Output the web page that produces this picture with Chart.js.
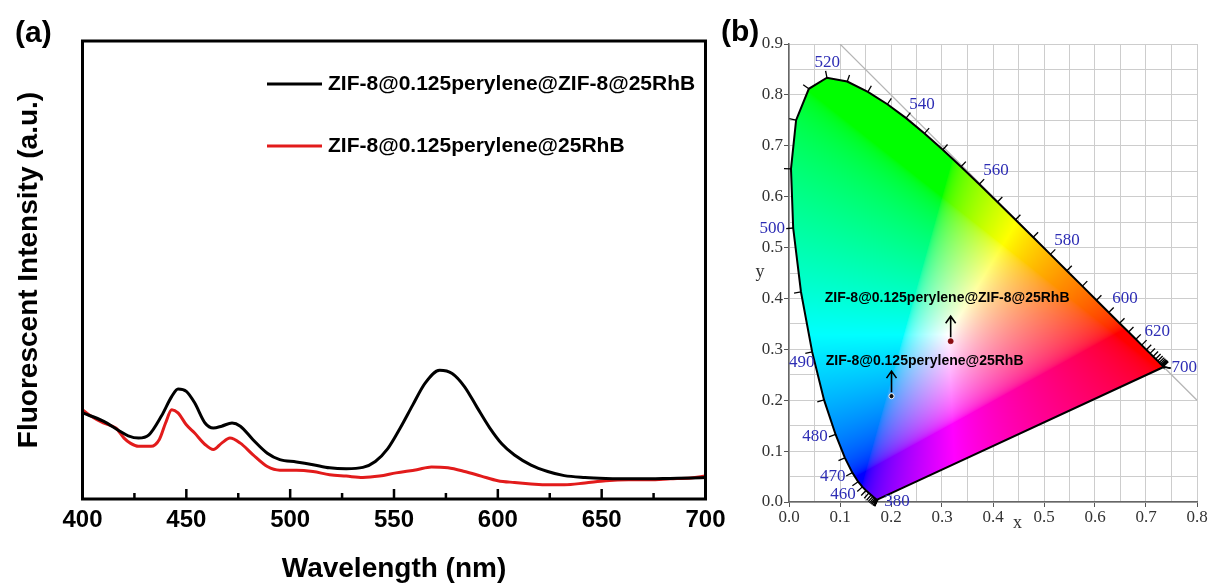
<!DOCTYPE html>
<html>
<head>
<meta charset="utf-8">
<script src="https://cdn.jsdelivr.net/npm/chart.js@4.4.0/dist/chart.umd.min.js"></script>
<style>
  html, body { margin: 0; padding: 0; background: #fff; }
  #page { position: relative; width: 1208px; height: 586px; overflow: hidden; }
  #spectre { position: absolute; left: 0; top: 0; }
  #cie { position: absolute; left: 720px; top: 0; }
  .panneau { position: absolute; font: bold 30px "Liberation Sans", Arial, sans-serif; line-height: 30px; color: #000; }
</style>
</head>
<body>
<div id="page">
  <canvas id="spectre" width="760" height="586"></canvas>
  <canvas id="cie" width="488" height="586"></canvas>
  <div class="panneau" style="left:15px;top:17px">(a)</div>
  <div class="panneau" style="left:721px;top:16px">(b)</div>
</div>
<script>
const SANS = '"Liberation Sans", Arial, sans-serif';
const SERIF = '"Liberation Serif", "Times New Roman", serif';

// --- (a) spectres de fluorescence (intensité en u.a.) ---
const nomsSeries = ['ZIF-8@0.125perylene@ZIF-8@25RhB', 'ZIF-8@0.125perylene@25RhB'];

const longueursNoir = [400, 410, 418, 422, 427, 432, 438, 443, 446, 450, 454, 459, 463, 467, 472, 476, 482, 489, 495, 503, 511, 519, 527, 535, 541, 547, 553, 559, 565, 572, 578, 584, 590, 596, 602, 608, 616, 624, 632, 642, 652, 663, 673, 683, 693, 700];
const intensiteNoir = [18.8, 17.0, 14.8, 13.8, 13.3, 14.0, 18.1, 22.4, 24.0, 23.5, 21.0, 16.6, 15.5, 15.9, 16.6, 15.9, 13.0, 10.0, 8.6, 8.1, 7.5, 6.8, 6.6, 6.9, 8.2, 11.0, 15.5, 20.5, 25.3, 28.1, 27.4, 24.5, 20.0, 15.6, 12.0, 9.6, 7.4, 6.0, 5.1, 4.7, 4.5, 4.4, 4.4, 4.5, 4.6, 4.7];

const longueursRouge = [400, 404, 410, 416, 420, 423, 427, 433, 437, 440, 443, 446, 450, 454, 459, 463, 467, 471, 476, 482, 489, 495, 503, 511, 519, 527, 535, 543, 551, 561, 568, 576, 584, 592, 600, 608, 616, 624, 632, 642, 652, 663, 673, 683, 693, 700];
const intensiteRouge = [19.5, 18.1, 16.6, 15.5, 13.3, 12.2, 11.5, 11.5, 13.0, 16.6, 19.5, 18.8, 16.2, 14.4, 11.9, 10.8, 12.2, 13.3, 12.2, 9.7, 7.1, 6.3, 6.3, 6.0, 5.3, 5.0, 4.7, 5.0, 5.7, 6.4, 7.0, 6.8, 6.0, 5.0, 4.0, 3.6, 3.3, 3.1, 3.1, 3.5, 4.0, 4.2, 4.2, 4.4, 4.6, 5.0];

// --- (b) diagramme CIE 1931 ---
const locusLambda = [380, 385, 390, 395, 400, 405, 410, 415, 420, 425, 430, 435, 440, 445, 450, 455, 460, 465, 470, 475, 480, 485, 490, 495, 500, 505, 510, 515, 520, 525, 530, 535, 540, 545, 550, 555, 560, 565, 570, 575, 580, 585, 590, 595, 600, 605, 610, 615, 620, 625, 630, 635, 640, 645, 650, 655, 660, 665, 670, 675, 680, 685, 690, 695, 700];
const locusX = [0.1741, 0.1740, 0.1738, 0.1736, 0.1733, 0.1730, 0.1726, 0.1721, 0.1714, 0.1703, 0.1689, 0.1669, 0.1644, 0.1611, 0.1566, 0.1510, 0.1440, 0.1355, 0.1241, 0.1096, 0.0913, 0.0687, 0.0454, 0.0235, 0.0082, 0.0039, 0.0139, 0.0389, 0.0743, 0.1142, 0.1547, 0.1929, 0.2296, 0.2658, 0.3016, 0.3373, 0.3731, 0.4087, 0.4441, 0.4788, 0.5125, 0.5448, 0.5752, 0.6029, 0.6270, 0.6482, 0.6658, 0.6801, 0.6915, 0.7006, 0.7079, 0.7140, 0.7190, 0.7230, 0.7260, 0.7283, 0.7300, 0.7311, 0.7320, 0.7327, 0.7334, 0.7340, 0.7344, 0.7346, 0.7347];
const locusY = [0.0050, 0.0050, 0.0049, 0.0049, 0.0048, 0.0048, 0.0048, 0.0048, 0.0051, 0.0058, 0.0069, 0.0086, 0.0109, 0.0138, 0.0177, 0.0227, 0.0297, 0.0399, 0.0578, 0.0868, 0.1327, 0.2007, 0.2950, 0.4127, 0.5384, 0.6548, 0.7502, 0.8120, 0.8338, 0.8262, 0.8059, 0.7816, 0.7543, 0.7243, 0.6923, 0.6589, 0.6245, 0.5896, 0.5547, 0.5202, 0.4866, 0.4544, 0.4242, 0.3965, 0.3725, 0.3514, 0.3340, 0.3197, 0.3083, 0.2993, 0.2920, 0.2859, 0.2809, 0.2770, 0.2740, 0.2717, 0.2700, 0.2689, 0.2680, 0.2673, 0.2666, 0.2660, 0.2656, 0.2654, 0.2653];

const diagX = [0.1, 0.8];
const diagY = [0.9, 0.2];

const etiquettesLambda = ['520', '540', '560', '580', '600', '620', '700', '500', '490', '480', '470', '460', '380'];
const etiquettesX = [0.075, 0.261, 0.406, 0.545, 0.659, 0.722, 0.775, -0.033, 0.025, 0.051, 0.086, 0.106, 0.212];
const etiquettesY = [0.864, 0.782, 0.652, 0.513, 0.399, 0.334, 0.265, 0.538, 0.275, 0.128, 0.051, 0.014, 0.000];

const echantX = [0.317, 0.201];
const echantY = [0.316, 0.208];
const texteEchantX = [0.310, 0.266];
const texteEchantY = [0.401, 0.277];

// cadre + graduations vers l'intérieur
const cadreA = {
  id: 'cadreA',
  afterDraw(chart) {
    const {ctx, chartArea: a, scales: {x}} = chart;
    ctx.save();
    ctx.strokeStyle = '#000';
    ctx.lineWidth = 3;
    ctx.strokeRect(a.left, a.top, a.right - a.left, a.bottom - a.top);
    ctx.lineWidth = 2.5;
    x.ticks.forEach(t => {
      if (t.value <= x.min || t.value >= x.max) return;
      const px = x.getPixelForValue(t.value);
      const len = t.value % 50 === 0 ? 10 : 6;
      ctx.beginPath();
      ctx.moveTo(px, a.bottom);
      ctx.lineTo(px, a.bottom - len);
      ctx.stroke();
    });
    ctx.restore();
  }
};

const legendeA = {
  id: 'legendeA',
  afterDraw(chart, args, opts) {
    const ctx = chart.ctx;
    ctx.save();
    ctx.font = 'bold ' + opts.taille + 'px ' + SANS;
    ctx.textBaseline = 'middle';
    chart.data.datasets.forEach((ds, i) => {
      const y = opts.lignes[i];
      ctx.strokeStyle = ds.borderColor;
      ctx.lineWidth = 3;
      ctx.beginPath();
      ctx.moveTo(opts.x0, y);
      ctx.lineTo(opts.x1, y);
      ctx.stroke();
      ctx.fillStyle = '#000';
      ctx.fillText(ds.label, opts.texteX, y);
    });
    ctx.restore();
  }
};

new Chart(document.getElementById('spectre'), {
  type: 'scatter',
  data: {
    datasets: [
      {
        label: nomsSeries[0],
        data: longueursNoir.map((w, i) => ({x: w, y: intensiteNoir[i]})),
        showLine: true, borderColor: '#000', borderWidth: 3, pointRadius: 0,
        cubicInterpolationMode: 'monotone'
      },
      {
        label: nomsSeries[1],
        data: longueursRouge.map((w, i) => ({x: w, y: intensiteRouge[i]})),
        showLine: true, borderColor: '#e21b1b', borderWidth: 3, pointRadius: 0,
        cubicInterpolationMode: 'monotone'
      }
    ]
  },
  options: {
    responsive: false,
    animation: false,
    layout: {padding: {top: 41, right: 54.5, left: 0, bottom: 0}},
    plugins: {
      legend: {display: false},
      tooltip: {enabled: false},
      legendeA: {x0: 267, x1: 322, texteX: 328, lignes: [84, 146], taille: 21}
    },
    scales: {
      x: {
        type: 'linear', min: 400, max: 700,
        ticks: {
          stepSize: 25, autoSkip: false, maxRotation: 0, padding: 7, color: '#000',
          font: {family: SANS, size: 24, weight: 'bold'},
          callback: v => (v % 50 === 0 ? String(v) : '')
        },
        grid: {display: false, drawTicks: false},
        border: {display: false},
        title: {display: true, text: 'Wavelength (nm)', color: '#000',
          font: {family: SANS, size: 28, weight: 'bold'}, padding: {top: 0, bottom: 0}},
        afterFit: s => { s.height = 87; s.paddingLeft = 0; s.paddingRight = 0; }
      },
      y: {
        min: 0, max: 100,
        ticks: {display: false},
        grid: {display: false, drawTicks: false},
        border: {display: false},
        title: {display: true, text: 'Fluorescent Intensity (a.u.)', color: '#000',
          font: {family: SANS, size: 28, weight: 'bold'}, padding: {top: 12, bottom: 0}},
        afterFit: s => { s.width = 82.5; s.paddingTop = 0; s.paddingBottom = 0; }
      }
    }
  },
  plugins: [cadreA, legendeA]
});

// remplissage coloré du diagramme de chromaticité
function gammaSrgb(c) {
  return c <= 0.0031308 ? 12.92 * c : 1.055 * Math.pow(c, 1 / 2.4) - 0.055;
}

const remplissageCIE = {
  id: 'remplissageCIE',
  beforeDatasetsDraw(chart) {
    const {ctx, scales: {x, y}} = chart;
    const pts = locusX.map((v, i) => [x.getPixelForValue(v), y.getPixelForValue(locusY[i])]);
    const minX = Math.floor(Math.min(...pts.map(p => p[0]))) - 1;
    const maxX = Math.ceil(Math.max(...pts.map(p => p[0]))) + 1;
    const minY = Math.floor(Math.min(...pts.map(p => p[1]))) - 1;
    const maxY = Math.ceil(Math.max(...pts.map(p => p[1]))) + 1;
    const w = maxX - minX, h = maxY - minY;
    const off = document.createElement('canvas');
    off.width = w; off.height = h;
    const octx = off.getContext('2d');
    const img = octx.createImageData(w, h);
    for (let j = 0; j < h; j++) {
      const cy = Math.max(y.getValueForPixel(minY + j + 0.5), 0.002);
      for (let i = 0; i < w; i++) {
        const cx = x.getValueForPixel(minX + i + 0.5);
        const X = cx / cy, Y = 1, Z = (1 - cx - cy) / cy;
        let r = 3.2406 * X - 1.5372 * Y - 0.4986 * Z;
        let g = -0.9689 * X + 1.8758 * Y + 0.0415 * Z;
        let b = 0.0557 * X - 0.2040 * Y + 1.0570 * Z;
        r = Math.max(r, 0); g = Math.max(g, 0); b = Math.max(b, 0);
        const m = Math.max(r, g, b) || 1;
        const k = (j * w + i) * 4;
        img.data[k] = 255 * gammaSrgb(r / m);
        img.data[k + 1] = 255 * gammaSrgb(g / m);
        img.data[k + 2] = 255 * gammaSrgb(b / m);
        img.data[k + 3] = 255;
      }
    }
    octx.putImageData(img, 0, 0);
    ctx.save();
    ctx.beginPath();
    pts.forEach((p, i) => (i ? ctx.lineTo(p[0], p[1]) : ctx.moveTo(p[0], p[1])));
    ctx.closePath();
    ctx.clip();
    ctx.drawImage(off, minX, minY);
    ctx.restore();
  }
};

const decorCIE = {
  id: 'decorCIE',
  afterDatasetsDraw(chart) {
    const {ctx, chartArea: a, scales: {x, y}} = chart;
    const pts = locusX.map((v, i) => [x.getPixelForValue(v), y.getPixelForValue(locusY[i])]);
    const blanc = [x.getPixelForValue(0.333), y.getPixelForValue(0.333)];
    ctx.save();
    // graduations tous les 5 nm
    ctx.strokeStyle = '#000';
    ctx.lineWidth = 1.3;
    pts.forEach((p, i) => {
      const pr = pts[Math.max(i - 1, 0)], nx = pts[Math.min(i + 1, pts.length - 1)];
      let tx = nx[0] - pr[0], ty = nx[1] - pr[1];
      let l = Math.hypot(tx, ty);
      let nX, nY;
      if (l < 0.5) {
        nX = p[0] - blanc[0]; nY = p[1] - blanc[1];
        l = Math.hypot(nX, nY); nX /= l; nY /= l;
      } else {
        nX = -ty / l; nY = tx / l;
        if (nX * (p[0] - blanc[0]) + nY * (p[1] - blanc[1]) < 0) { nX = -nX; nY = -nY; }
      }
      ctx.beginPath();
      ctx.moveTo(p[0], p[1]);
      ctx.lineTo(p[0] + nX * 7, p[1] + nY * 7);
      ctx.stroke();
    });
    // étiquettes de longueur d'onde
    ctx.fillStyle = '#2d2db4';
    ctx.font = '17px ' + SERIF;
    ctx.textAlign = 'center';
    ctx.textBaseline = 'middle';
    etiquettesLambda.forEach((t, i) => {
      ctx.fillText(t, x.getPixelForValue(etiquettesX[i]), y.getPixelForValue(etiquettesY[i]));
    });
    // flèches et noms des échantillons
    ctx.strokeStyle = '#000';
    ctx.lineWidth = 1.6;
    echantX.forEach((v, i) => {
      const px = x.getPixelForValue(v), py = y.getPixelForValue(echantY[i]);
      ctx.beginPath();
      ctx.moveTo(px, py - 4);
      ctx.lineTo(px, py - 25);
      ctx.moveTo(px - 5, py - 18);
      ctx.lineTo(px, py - 25);
      ctx.lineTo(px + 5, py - 18);
      ctx.stroke();
    });
    ctx.fillStyle = '#000';
    ctx.font = 'bold 14px ' + SANS;
    nomsSeries.forEach((t, i) => {
      ctx.fillText(t, x.getPixelForValue(texteEchantX[i]), y.getPixelForValue(texteEchantY[i]));
    });
    // titres des axes (droits, comme dans l'original)
    ctx.fillStyle = '#333';
    ctx.font = '18px ' + SERIF;
    ctx.fillText('x', x.getPixelForValue(0.448), a.bottom + 21);
    ctx.fillText('y', a.left - 29, y.getPixelForValue(0.452));
    ctx.restore();
  }
};

const estMajeur = v => Math.abs(v * 10 - Math.round(v * 10)) < 1e-6;

new Chart(document.getElementById('cie'), {
  type: 'scatter',
  data: {
    datasets: [
      {
        label: 'x+y=1',
        data: diagX.map((v, i) => ({x: v, y: diagY[i]})),
        showLine: true, borderColor: '#b5b5b5', borderWidth: 1.2, pointRadius: 0, order: 3
      },
      {
        label: 'locus',
        data: locusX.concat([locusX[0]]).map((v, i) => ({x: v, y: locusY.concat([locusY[0]])[i]})),
        showLine: true, borderColor: '#000', borderWidth: 2, pointRadius: 0, order: 2
      },
      {
        label: 'échantillons',
        data: echantX.map((v, i) => ({x: v, y: echantY[i]})),
        pointRadius: 2.6,
        pointBackgroundColor: ['#8a0d12', '#111'],
        pointBorderColor: ['#8a0d12', '#fff'],
        pointBorderWidth: [0.5, 1],
        order: 1
      }
    ]
  },
  options: {
    responsive: false,
    animation: false,
    layout: {padding: {top: 44, right: 11, left: 0, bottom: 0}},
    plugins: {legend: {display: false}, tooltip: {enabled: false}},
    scales: {
      x: {
        type: 'linear', min: 0, max: 0.8,
        ticks: {
          stepSize: 0.05, autoSkip: false, maxRotation: 0, padding: 0, color: '#333',
          font: {family: SERIF, size: 17},
          callback: v => (estMajeur(v) ? v.toFixed(1) : '')
        },
        grid: {color: '#cdcdcd', lineWidth: 1, tickLength: 5,
          tickColor: c => (c.tick && estMajeur(c.tick.value) ? '#555' : 'rgba(0,0,0,0)')},
        border: {color: '#666', width: 1.5},
        afterFit: s => { s.height = 84; }
      },
      y: {
        min: 0, max: 0.9,
        ticks: {
          stepSize: 0.05, autoSkip: false, padding: 1, color: '#333',
          font: {family: SERIF, size: 17},
          callback: v => (estMajeur(v) ? v.toFixed(1) : '')
        },
        grid: {color: '#cdcdcd', lineWidth: 1, tickLength: 5,
          tickColor: c => (c.tick && estMajeur(c.tick.value) ? '#555' : 'rgba(0,0,0,0)')},
        border: {color: '#666', width: 1.5},
        afterFit: s => { s.width = 69; }
      }
    }
  },
  plugins: [remplissageCIE, decorCIE]
});
</script>
</body>
</html>
